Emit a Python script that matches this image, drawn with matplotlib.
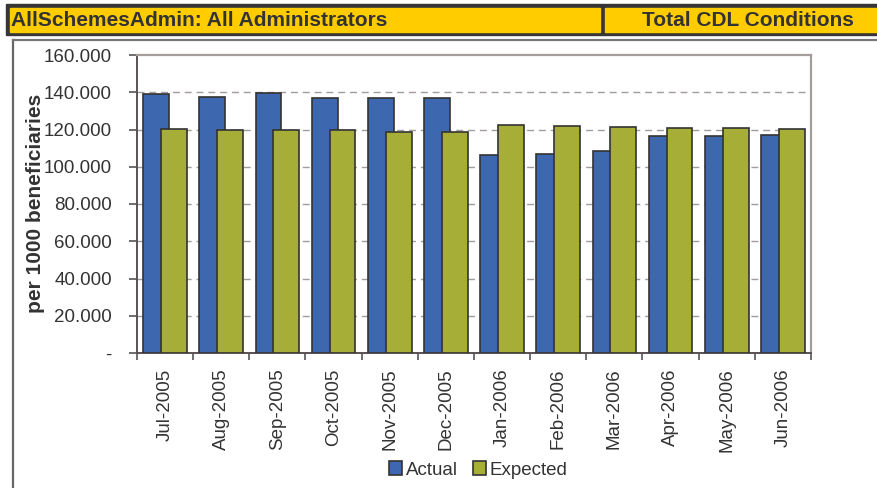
import numpy as np
import matplotlib.pyplot as plt
from matplotlib.patches import Rectangle
from matplotlib.lines import Line2D
from matplotlib.ticker import FuncFormatter

plt.rcParams['font.family'] = ['Liberation Sans', 'DejaVu Sans']

months = ['Jul-2005', 'Aug-2005', 'Sep-2005', 'Oct-2005', 'Nov-2005', 'Dec-2005',
          'Jan-2006', 'Feb-2006', 'Mar-2006', 'Apr-2006', 'May-2006', 'Jun-2006']
actual = [138.9, 137.6, 139.8, 137.1, 137.1, 136.7,
          106.3, 106.8, 108.5, 116.7, 116.5, 117.0]
expected = [120.1, 119.7, 119.6, 119.5, 118.8, 118.5,
            122.4, 121.9, 121.3, 121.0, 120.8, 120.3]
y_ticks = [0, 20, 40, 60, 80, 100, 120, 140, 160]

W, H = 878, 488
blue = '#3d68b0'
green = '#a7ae38'
edge = '#333333'
txt = '#333333'
grid_c = '#a39c9a'

fig = plt.figure(figsize=(W / 100, H / 100), dpi=100)

# header band
def px_rect(x0, y0, x1, y1, color):
    fig.patches.append(Rectangle((x0 / W, 1 - y1 / H), (x1 - x0) / W, (y1 - y0) / H,
                                 transform=fig.transFigure, color=color, zorder=0))

px_rect(6, 4, 878, 35, '#363636')
px_rect(10, 8, 600, 32, '#ffcc00')
px_rect(605, 8, 878, 32, '#ffcc00')
fig.text(11 / W, 1 - 20.5 / H, 'AllSchemesAdmin: All Administrators', fontsize=15,
         fontweight='bold', color=txt, ha='left', va='center')
fig.text(748 / W, 1 - 20.5 / H, 'Total CDL Conditions', fontsize=15,
         fontweight='bold', color=txt, ha='center', va='center')

# chart box border
fig.lines.append(Line2D([13 / W, 13 / W], [0, 1 - 40 / H], transform=fig.transFigure,
                        color='#666666', lw=1.6))
fig.lines.append(Line2D([13 / W, 1], [1 - 40 / H, 1 - 40 / H], transform=fig.transFigure,
                        color='#777777', lw=1.6))

ax = fig.add_axes([137 / W, 1 - 353 / H, (811 - 137) / W, (353 - 55) / H])

x = np.arange(len(months))
ax.bar(x - 0.5 + 0.11, actual, width=0.46, align='edge', color=blue,
       edgecolor=edge, linewidth=1.2, zorder=3, label='Actual')
ax.bar(x - 0.5 + 0.43, expected, width=0.46, align='edge', color=green,
       edgecolor=edge, linewidth=1.2, zorder=4, label='Expected')

ax.set_xlim(-0.5, len(months) - 0.5)
ax.set_ylim(0, 160)

ax.set_yticks(y_ticks)
ax.yaxis.set_major_formatter(FuncFormatter(lambda v, p: '-' if v == 0 else f'{v:.3f}'))
for yv in y_ticks[1:-1]:
    ax.axhline(yv, color=grid_c, lw=1.0, dashes=(5, 3.5), zorder=1)

ax.set_xticks(np.arange(-0.5, len(months), 1))
ax.set_xticklabels([])
ax.set_xticks(x, minor=True)
ax.set_xticklabels(months, minor=True, rotation=90, fontsize=13.5, color=txt)
ax.tick_params(axis='x', which='major', length=5, color='#555555', width=1.2)
ax.tick_params(axis='x', which='minor', length=0, pad=11)
ax.tick_params(axis='y', length=6, color='#555555', width=1.2, labelsize=13.5,
               labelcolor=txt, pad=12)

for s in ['left', 'bottom']:
    ax.spines[s].set_color('#5a5252')
    ax.spines[s].set_linewidth(1.4)
for s in ['top', 'right']:
    ax.spines[s].set_color(grid_c)
    ax.spines[s].set_linewidth(1.6)

fig.text(36 / W, 1 - 203 / H, 'per 1000 beneficiaries', rotation=90, fontsize=15,
         fontweight='bold', color=txt, ha='center', va='center')

handles = [Rectangle((0, 0), 1, 1, facecolor=blue, edgecolor=edge, lw=1.2),
           Rectangle((0, 0), 1, 1, facecolor=green, edgecolor=edge, lw=1.2)]
fig.legend(handles, ['Actual', 'Expected'], loc='center', bbox_to_anchor=(478 / W, 1 - 470 / H),
           ncol=2, frameon=False, fontsize=13.5, handlelength=0.7, handleheight=0.7,
           handletextpad=0.2, columnspacing=0.8, labelcolor=txt)

fig.savefig('out.png', dpi=100)
